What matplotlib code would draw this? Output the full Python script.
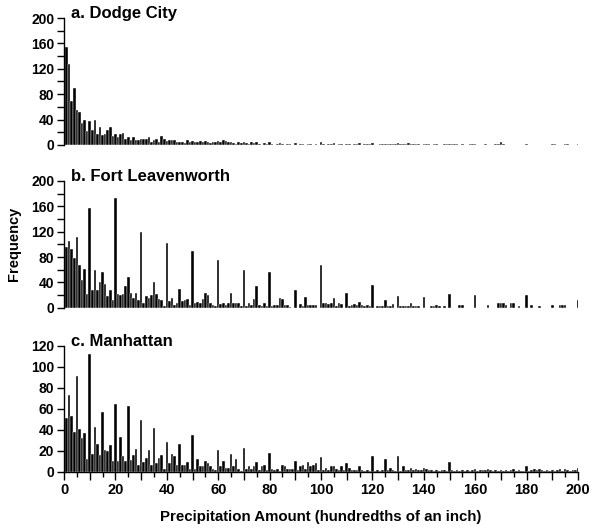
import matplotlib
matplotlib.use("Agg")
import matplotlib.pyplot as plt
from matplotlib.ticker import MultipleLocator, FuncFormatter

plt.rcParams["font.family"] = ["Liberation Sans", "DejaVu Sans"]
plt.rcParams["font.weight"] = "bold"

# precipitation amount, hundredths of an inch
amounts = list(range(1, 201))

# frequency per amount (1..200)
dodge_city = [
    154, 127, 69, 89, 55, 52, 35, 40, 22, 37,
    23, 39, 18, 28, 16, 18, 23, 29, 14, 18,
    12, 17, 19, 9, 12, 8, 12, 8, 8, 9,
    9, 10, 13, 5, 8, 10, 5, 14, 10, 6,
    8, 8, 8, 5, 5, 4, 3, 8, 4, 6,
    5, 4, 6, 5, 7, 4, 3, 5, 4, 6,
    5, 8, 7, 4, 5, 3, 2, 4, 3, 5,
    3, 2, 4, 3, 5, 2, 0, 3, 2, 4,
    2, 0, 2, 3, 2, 0, 2, 1, 0, 3,
    0, 1, 2, 0, 2, 1, 0, 2, 0, 5,
    2, 0, 1, 2, 3, 0, 1, 2, 0, 2,
    1, 0, 2, 2, 3, 0, 2, 2, 1, 3,
    0, 0, 1, 2, 2, 2, 1, 2, 2, 3,
    2, 2, 2, 3, 2, 2, 1, 2, 0, 2,
    1, 2, 0, 1, 2, 0, 0, 1, 2, 2,
    2, 1, 2, 0, 1, 0, 0, 1, 2, 1,
    0, 0, 0, 1, 0, 0, 0, 1, 2, 5,
    2, 0, 0, 0, 0, 0, 0, 0, 0, 1,
    0, 0, 0, 0, 0, 0, 0, 0, 0, 2,
    1, 0, 0, 0, 2, 1, 0, 0, 0, 2,
]

fort_leavenworth = [
    96, 105, 93, 78, 112, 67, 44, 61, 22, 157,
    28, 60, 28, 40, 57, 38, 18, 28, 12, 173,
    22, 20, 22, 34, 49, 23, 16, 23, 12, 119,
    7, 18, 15, 20, 40, 22, 13, 12, 3, 102,
    10, 16, 4, 8, 29, 11, 12, 13, 4, 89,
    7, 9, 7, 13, 23, 20, 7, 4, 2, 76,
    6, 7, 4, 7, 23, 7, 7, 7, 2, 59,
    2, 8, 4, 13, 35, 4, 2, 7, 3, 57,
    2, 4, 4, 15, 13, 4, 4, 1, 0, 28,
    0, 6, 2, 17, 4, 4, 4, 4, 0, 67,
    7, 7, 6, 8, 16, 2, 8, 6, 0, 23,
    2, 4, 6, 4, 9, 4, 3, 4, 2, 36,
    0, 2, 3, 2, 12, 2, 2, 6, 0, 18,
    2, 2, 2, 3, 7, 2, 2, 2, 0, 17,
    0, 0, 2, 2, 5, 2, 0, 2, 0, 21,
    0, 0, 0, 4, 4, 0, 0, 0, 0, 20,
    0, 0, 0, 0, 4, 0, 0, 0, 7, 8,
    7, 4, 0, 8, 7, 0, 2, 0, 0, 20,
    0, 4, 0, 0, 3, 0, 0, 0, 0, 4,
    0, 0, 4, 4, 4, 0, 0, 0, 0, 12,
]

manhattan = [
    51, 73, 53, 38, 91, 41, 32, 37, 12, 112,
    17, 43, 26, 16, 57, 21, 20, 25, 10, 64,
    10, 33, 15, 10, 63, 11, 16, 22, 6, 49,
    9, 13, 21, 6, 42, 8, 13, 16, 3, 28,
    8, 17, 15, 6, 26, 6, 6, 9, 3, 35,
    3, 12, 5, 5, 10, 8, 5, 3, 2, 21,
    5, 10, 4, 4, 17, 5, 12, 3, 1, 23,
    3, 5, 3, 5, 9, 2, 5, 6, 2, 18,
    3, 2, 3, 1, 6, 5, 3, 3, 3, 10,
    2, 5, 6, 3, 9, 5, 6, 8, 2, 14,
    2, 4, 2, 5, 5, 3, 2, 5, 2, 8,
    4, 2, 2, 2, 5, 2, 1, 2, 1, 15,
    1, 2, 1, 2, 12, 2, 4, 2, 1, 15,
    1, 5, 2, 2, 4, 2, 3, 2, 2, 4,
    3, 2, 2, 1, 2, 1, 2, 2, 1, 9,
    2, 1, 2, 1, 2, 1, 2, 1, 2, 3,
    1, 2, 2, 2, 3, 2, 1, 2, 1, 2,
    1, 2, 1, 2, 3, 1, 2, 1, 1, 5,
    1, 2, 3, 2, 3, 2, 1, 2, 1, 2,
    1, 2, 3, 1, 3, 2, 1, 2, 2, 4,
]

panel_titles = ["a. Dodge City", "b. Fort Leavenworth", "c. Manhattan"]


def every(step):
    # label only multiples of step
    return FuncFormatter(lambda v, p: "%d" % round(v) if round(v) % step == 0 else "")


fig = plt.figure(figsize=(5.96, 5.28), dpi=100)

# axes boxes (left, bottom, width, height) in figure fraction
boxes = [
    [0.1074, 0.7254, 0.8624, 0.2405],
    [0.1074, 0.4172, 0.8624, 0.2400],
    [0.1074, 0.1066, 0.8624, 0.2387],
]
ylims = [200, 200, 120]
ylabel_step = [40, 40, 20]

for i, values in enumerate([dodge_city, fort_leavenworth, manhattan]):
    ax = fig.add_axes(boxes[i])
    ax.bar(amounts, values, width=1.0, color="black", edgecolor="white", linewidth=0.3)

    ax.set_xlim(0, 200)
    ax.set_ylim(0, ylims[i])
    ax.spines["top"].set_visible(False)
    ax.spines["right"].set_visible(False)
    ax.spines["left"].set_linewidth(1.0)

    ax.yaxis.set_major_locator(MultipleLocator(20))
    ax.yaxis.set_major_formatter(every(ylabel_step[i]))
    ax.tick_params(axis="y", direction="out", length=5, width=1.0, labelsize=10, pad=2)

    if i < 2:
        ax.spines["bottom"].set_visible(False)
        ax.set_xticks([])
    else:
        ax.spines["bottom"].set_linewidth(1.0)
        ax.xaxis.set_major_locator(MultipleLocator(10))
        ax.xaxis.set_minor_locator(MultipleLocator(5))
        ax.xaxis.set_major_formatter(every(20))
        ax.tick_params(axis="x", which="major", direction="out", length=6, width=1.0,
                       labelsize=10.5, pad=2)
        ax.tick_params(axis="x", which="minor", direction="out", length=3.5, width=1.0)

    for lab in ax.get_xticklabels() + ax.get_yticklabels():
        lab.set_fontweight("bold")

    ax.text(0.013, 1.0, panel_titles[i], transform=ax.transAxes, ha="left", va="baseline",
            fontsize=12, fontweight="bold")

fig.text(14 / 596, 1 - 244 / 528, "Frequency", rotation=90, ha="center", va="center",
         fontsize=10.5, fontweight="bold")
fig.text(321 / 596, 1 - 517 / 528, "Precipitation Amount (hundredths of an inch)",
         ha="center", va="center", fontsize=10.8, fontweight="bold")

fig.savefig("out.png", dpi=100, facecolor="white")
